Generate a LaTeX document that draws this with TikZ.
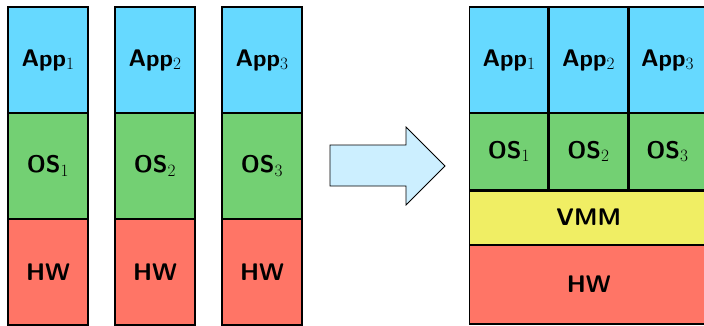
\documentclass[tikz,border=0pt]{standalone}
\usepackage{tikz}
\usetikzlibrary{positioning}
\definecolor{appblue}{HTML}{66D9FF}
\definecolor{osgreen}{HTML}{73D073}
\definecolor{hwred}{HTML}{FF7566}
\definecolor{vmmyellow}{HTML}{F0EE64}
\definecolor{arrowblue}{HTML}{CCEFFF}
\tikzstyle{layer}=[draw,line width=1.5pt,outer sep=0pt,inner sep=0pt,font=\fontsize{24}{26}\selectfont\sffamily\bfseries]
\tikzstyle{app}=[layer,fill=appblue,minimum width=80pt,minimum height=106pt]
\tikzstyle{os}=[layer,fill=osgreen,minimum width=80pt,minimum height=106pt]
\tikzstyle{hw}=[layer,fill=hwred,minimum width=80pt,minimum height=106pt]

\begin{document}
\begin{tikzpicture}[x=1pt,y=1pt]
\useasboundingbox (0,0) rectangle (704,325);
\foreach \i/\x in {1/48,2/155,3/262}{
  \node [app,anchor=north] (app\i) at (\x,318) {App$_\i$};
  \node [os,below=0pt of app\i] (os\i) {OS$_\i$};
  \node [hw,below=0pt of os\i] (hw\i) {HW};
}
\draw [fill=arrowblue,line width=0.8pt] (330,180) -- (406,180) -- (406,198) -- (445,159)
  -- (406,120) -- (406,139) -- (330,139) -- cycle;
\foreach \i/\x in {1/509,2/588.5,3/667.5}{
  \node [app,minimum width=79.5pt,anchor=north] (vapp\i) at (\x,318) {App$_\i$};
  \node [os,minimum width=79.5pt,minimum height=77pt,below=0pt of vapp\i] (vos\i) {OS$_\i$};
}
\node [layer,fill=vmmyellow,minimum width=239pt,minimum height=55pt,anchor=north west] (vmm) at (vos1.south west) {VMM};
\node [hw,minimum width=239pt,minimum height=79pt,below=0pt of vmm] (vhw) {HW};
\draw [line width=3pt] (vapp1.north east) -- (vos1.south east);
\draw [line width=3pt] (vapp2.north east) -- (vos2.south east);
\draw [line width=3pt] (vos1.south west) -- (vos3.south east);
\end{tikzpicture}
\end{document}
